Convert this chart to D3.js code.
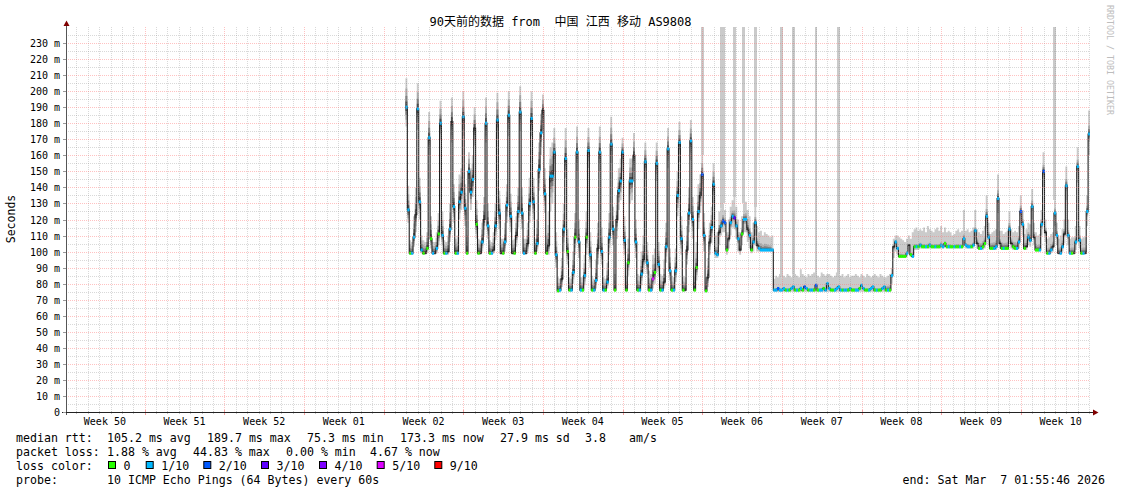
<!DOCTYPE html>
<html><head><meta charset="utf-8">
<script src="https://cdn.jsdelivr.net/npm/d3@7"></script>
<style>
html,body{margin:0;padding:0;background:#fff;}
svg{display:block;}
text{font-family:"DejaVu Sans Mono","Noto Sans CJK SC",monospace;}
</style></head><body>
<svg id="chart" width="1121" height="494"></svg>
<script>
const N = null;
// one sample every 4 hours, starting 2026-01-05 21:55:46 UTC
const median = [
190,
126,99,99,109,123,189,
131,101,99,99,102,171,
108,99,99,102,111,180,
110,99,99,100,114,181,
128,99,99,131,137,184,
127,99,150,137,145,177,
117,99,99,106,120,180,
116,99,99,101,116,182,
124,99,99,106,129,185,
122,99,99,110,125,187,
124,99,99,105,130,183,
131,99,105,151,174,188,
136,99,104,147,147,162,
98,75.5,76,83,114,158,
100,76,76,87,109,162,
106,76,76,85,109,163,
98,76,76,82,102,162,
100,76,76,81,109,167,
114,76,120,138,144,162,
107,76,93,144,144,160,
106,76,76,86,95,156,
93,76,76,83,87,155,
92,76,76,81,103,164,
88,76,76,88,135,168,
108,76,76,101,124,169,
120,76,90,125,135,148,
110,75.5,84,106,115,142,
99,98,112,116,119,118,
101,108,118,122,121,116,
108,101,111,120,120,114,
110,101,106,118,104,102,
101,101,101,101,101,101,
101,76,76,77,76,76,
77,76,76,76,77,78,
76,76,76,77,76,78,
77,76,76,76,76,79,
76,76,76,77,76,80,
77,76,76,76,77,78,
76,76,76,76,76,77,
76,76,76,76,77,79,
77,76,76,76,77,78,
76,76,76,76,77,78,
76,76,76,85,103,106,
102,97,97,97,97,99,
104,98,97,103,103,103,
104,103,103,103,103,104,
103,103,103,103,103,104,
103,105,103,103,103,103,
103,103,103,103,103,108,
104,103,103,103,104,113,
105,102,102,103,105,122,
109,102,102,102,103,133,
105,102,102,102,102,114,
105,103,102,102,106,125,
117,102,103,109,107,128,
109,101,101,101,117,150,
112,99,99,101,103,124,
110,99,99,103,111,141,
110,99,99,99,106,153,
107,99,99,99,125,173.3
];
const smokeLo = [
178,
118,98,98,103,112,176,
120,99,98,98,99,160,
102,98,98,99,104,170,
104,98,98,98,106,168,
118,98,98,120,126,172,
116,98,138,126,134,166,
108,98,98,100,110,168,
108,98,98,99,107,170,
114,98,98,100,118,172,
112,98,98,103,115,175,
114,98,98,100,118,172,
120,98,100,138,160,176,
124,98,98,125,130,150,
90,75,75,78,100,146,
92,75,75,80,98,150,
96,75,75,79,98,152,
90,75,75,77,92,150,
92,75,75,77,98,155,
104,75,108,126,132,150,
98,75,85,130,132,150,
96,75,75,79,86,145,
86,75,75,77,80,144,
85,75,75,77,93,152,
82,75,75,81,122,156,
98,75,75,92,112,157,
108,75,82,114,124,138,
100,75,78,98,105,130,
96,96,104,110,112,112,
98,102,110,115,114,108,
100,98,104,112,112,106,
102,99,100,110,100,100,
100,100,100,100,100,100,
100,75,75,75,75,75,
75,75,75,75,75,75,
75,75,75,75,75,75,
75,75,75,75,75,75,
75,75,75,75,75,75,
75,75,75,75,75,75,
75,75,75,75,75,75,
75,75,75,75,75,75,
75,75,75,75,75,75,
75,75,75,75,75,75,
75,75,75,80,96,100,
98,96,96,96,96,97,
100,97,96,101,101,101,
102,102,102,102,102,102,
102,102,102,102,102,102,
102,103,102,102,102,102,
102,102,102,102,102,104,
102,102,102,102,102,108,
102,101,101,101,102,115,
104,101,101,101,101,124,
102,101,101,101,101,108,
102,101,101,101,102,117,
110,101,101,104,103,120,
104,100,100,100,110,140,
106,98,98,99,100,116,
104,98,98,100,105,132,
104,98,98,98,101,143,
102,98,98,98,116,160
];
const smokeHi = [
208,
141,107,106,122,140,205,
146,110,107,106,112,187,
122,106,106,112,124,194,
125,107,106,110,130,196,
142,108,110,148,152,200,
142,110,162,152,160,190,
132,108,107,118,134,196,
130,107,106,112,130,199,
138,108,108,118,142,200,
136,107,108,122,140,203,
140,108,108,118,146,200,
146,108,120,168,186,198,
152,110,125,165,168,177,
112,84,83,96,130,177,
114,84,83,100,124,178,
120,84,84,98,125,177,
112,85,83,95,118,178,
115,84,83,93,124,184,
128,86,135,152,158,171,
122,85,108,158,158,174,
120,86,85,100,110,168,
106,88,86,98,102,168,
106,86,85,95,118,177,
102,85,84,102,150,181,
122,85,84,116,140,182,
134,90,106,142,148,160,
124,84,96,118,128,155,
110,112,125,127,130,126,
112,120,128,132,134,128,
120,112,122,130,131,126,
122,112,118,128,116,112,
113,110,112,111,110,109,
110,83,85,84,86,84,
85,84,86,85,84,86,
86,85,84,89,86,85,
84,86,85,86,87,85,
85,84,87,86,85,86,
86,85,84,85,87,86,
85,86,84,85,86,84,
85,85,86,85,84,86,
85,84,86,85,84,85,
86,85,84,86,85,84,
84,85,86,90,108,110,
110,109,108,107,106,108,
110,108,112,114,115,113,
114,113,115,112,116,114,
113,112,114,115,113,116,
112,115,112,113,112,110,
111,113,114,112,113,126,
113,114,112,113,115,126,
114,112,111,113,116,135,
118,111,112,113,114,148,
113,113,111,112,113,125,
114,112,113,112,116,135,
126,111,114,118,117,139,
118,112,110,111,126,162,
120,108,109,111,112,132,
118,108,110,114,120,153,
120,108,109,109,116,165,
116,108,109,109,135,188
];
// share of the smoke spread held by the middle pings, one value per day (day of first sample first)
const coreShare = [
0.65,
0.65,0.65,0.65,0.65,0.65,0.65,0.65,0.65,0.65,0.65,0.65,0.65,
0.6,0.6,0.6,0.6,0.6,0.6,0.6,0.6,0.6,0.6,0.6,0.6,0.6,0.6,0.6,
0.35,0.35,0.35,0.35,0.35,
0.12,0.12,0.12,0.12,0.12,0.12,0.12,0.12,0.12,0.12,
0.3,
0.15,0.15,0.15,0.15,0.15,0.15,0.15,
0.35,0.35,0.35,0.35,0.35,0.35,0.35,0.35,0.35,0.35
];
// loss class in tenths (null = no loss mark visible)
const lossClass = [
1,
1,0,1,1,N,1,
1,1,0,N,0,1,
0,1,N,1,0,1,
1,0,1,N,1,N,
1,0,1,1,1,1,
1,0,1,1,1,N,
0,0,N,1,N,1,
1,0,1,N,1,1,
1,N,0,1,1,1,
1,N,0,N,1,1,
1,1,N,N,1,1,
1,0,1,1,1,N,
1,0,N,1,1,1,
1,0,1,N,1,1,
0,0,1,1,0,1,
1,1,0,1,0,1,
1,0,1,1,N,1,
1,1,0,1,1,1,
1,0,N,1,1,1,
1,0,0,1,1,N,
1,0,1,1,N,1,
1,0,1,5,0,1,
1,0,1,N,1,1,
1,0,1,1,1,1,
1,0,N,N,1,1,
1,0,0,1,N,2,
1,0,N,N,1,1,
1,1,N,1,2,2,
0,N,1,1,3,1,
1,N,0,1,1,N,
1,0,1,1,N,1,
1,1,1,1,1,1,
1,1,1,2,1,1,
1,0,1,0,1,1,
0,1,0,1,0,2,
1,0,1,1,0,2,
0,1,1,0,1,1,
1,0,0,1,1,1,
1,0,1,1,0,1,
0,0,1,1,0,1,
1,0,0,1,1,1,
0,1,0,0,1,1,
0,1,0,1,N,1,
1,0,0,0,0,1,
N,0,1,0,1,0,
1,0,0,1,0,1,
0,0,1,0,0,1,
1,0,0,1,0,0,
1,0,0,1,0,1,
1,1,1,0,1,1,
N,0,1,0,0,1,
1,0,0,1,1,1,
N,0,1,0,0,1,
N,0,0,1,1,2,
1,0,N,1,1,1,
N,0,0,1,1,2,
N,0,1,1,N,1,
1,N,1,1,N,1,
1,1,0,N,1,1,
1,0,1,N,1,1
];
// single-ping outliers above the top of the chart (sample index, max rtt in ms)
const spikeSlot = [156,166,167,173,178,184,198,204,216,228,342];
const spikeMax  = [260,260,260,260,260,260,260,260,260,260,260];

const yTickValues = [0,10,20,30,40,50,60,70,80,90,100,110,120,130,140,150,160,170,180,190,200,210,220,230];
const yTickLabels = ["0","10 m","20 m","30 m","40 m","50 m","60 m","70 m","80 m","90 m","100 m","110 m","120 m","130 m","140 m","150 m","160 m","170 m","180 m","190 m","200 m","210 m","220 m","230 m"];
const weekLabels = ["Week 50","Week 51","Week 52","Week 01","Week 02","Week 03","Week 04","Week 05","Week 06","Week 07","Week 08","Week 09","Week 10"];
const lossLegendLabels = ["0","1/10","2/10","3/10","4/10","5/10","9/10"];
const lossLegendClasses = [0,1,2,3,4,5,9];
const lossColors = {0:"#26ff00",1:"#00b8ff",2:"#0059ff",3:"#5e00ff",4:"#7e00ff",5:"#dd00ff",9:"#ff0000"};
const titleText = "90天前的数据 from  中国 江西 移动 AS9808";
const statsRtt = ["median rtt:","105.2 ms avg","189.7 ms max","75.3 ms min","173.3 ms now","27.9 ms sd","3.8","am/s"];
const statsLoss = ["packet loss:","1.88 % avg","44.83 % max","0.00 % min","4.67 % now"];
const probeText = ["probe:","10 ICMP Echo Pings (64 Bytes) every 60s"];
const endText = "end: Sat Mar  7 01:55:46 2026";

// ---------------- drawing ----------------
const W = 1121, H = 494;
const PL = 66, PR = 1090, PT = 27, PB = 412;
const svg = d3.select("#chart");
svg.append("rect").attr("width", W).attr("height", H).attr("fill", "#fff");

const tEnd = Date.UTC(2026, 2, 7, 1, 55, 46);
const tStart = tEnd - 90 * 864e5;
const dataStart = Date.UTC(2026, 0, 5, 21, 55, 46);
const STEP = 4 * 36e5;
const x = d3.scaleUtc().domain([tStart, tEnd]).range([PL, PR]);
const y = d3.scaleLinear().domain([0, 240]).range([PB, PT]);

svg.append("defs").append("clipPath").attr("id", "plot")
  .append("rect").attr("x", PL).attr("y", PT).attr("width", PR - PL).attr("height", PB - PT);
const g = svg.append("g").attr("clip-path", "url(#plot)");

const rows = median.map((m, i) => ({t: dataStart + i * STEP, m, lo: smokeLo[i], hi: smokeHi[i], loss: lossClass[i],
  core: coreShare[Math.floor((i + 5) / 6)]}));
const rowsExt = rows.concat([Object.assign({}, rows[rows.length - 1], {t: dataStart + rows.length * STEP})]);

// outlier spikes
spikeSlot.forEach((s, k) => {
  const t = dataStart + s * STEP;
  const top = Math.min(spikeMax[k], 240);
  const x0 = Math.floor(x(t)), x1 = Math.max(Math.ceil(x(t + STEP)), x0 + 2);
  g.append("rect").attr("x", x0).attr("width", x1 - x0).attr("shape-rendering", "crispEdges")
    .attr("y", y(top)).attr("height", y(smokeHi[s]) - y(top)).attr("fill", "#cacaca");
});

// smoke: outer band light, middle pings darker
const layers = [{f: 1, c: "#cbcbcb", core: false}, {f: 1, c: "#acacac", core: true},
  {f: 0.6, c: "#808080", core: true}, {f: 0.3, c: "#4c4c4c", core: true}];
layers.forEach(L => {
  const k = d => L.core ? L.f * d.core : L.f;
  const area = d3.area().curve(d3.curveStepAfter)
    .x(d => x(d.t))
    .y0(d => y(d.m - (d.m - d.lo) * k(d)))
    .y1(d => y(d.m + (d.hi - d.m) * k(d)));
  g.append("path").datum(rowsExt).attr("d", area).attr("fill", L.c);
});

// grid
const grid = svg.append("g");
const minorCol = "rgba(140,140,140,0.33)", majorCol = "rgba(255,110,110,0.42)";
const hy = v => Math.round(y(v)) + 0.5;
const vx = t => Math.round(x(t)) + 0.5;
for (let v = 5; v < 240; v += 10) {
  grid.append("line").attr("x1", PL).attr("x2", PR).attr("y1", hy(v)).attr("y2", hy(v))
    .attr("stroke", minorCol).attr("stroke-dasharray", "1,1");
}
const days = d3.utcDay.range(d3.utcDay.ceil(tStart), tEnd);
const weeks = d3.utcSunday.range(d3.utcSunday.ceil(tStart), tEnd);
const weekSet = new Set(weeks.map(d => +d));
days.filter(d => !weekSet.has(+d)).forEach(d => {
  grid.append("line").attr("x1", vx(d)).attr("x2", vx(d)).attr("y1", PT).attr("y2", PB)
    .attr("stroke", minorCol).attr("stroke-dasharray", "1,1");
  grid.append("line").attr("x1", vx(d)).attr("x2", vx(d)).attr("y1", PB - 1).attr("y2", PB + 2)
    .attr("stroke", "#c4c4c4");
});
yTickValues.filter(v => v > 0).forEach(v => {
  grid.append("line").attr("x1", PL).attr("x2", PR).attr("y1", hy(v)).attr("y2", hy(v))
    .attr("stroke", majorCol).attr("stroke-dasharray", "1,1");
});
weeks.forEach(d => {
  grid.append("line").attr("x1", vx(d)).attr("x2", vx(d)).attr("y1", PT).attr("y2", PB)
    .attr("stroke", majorCol).attr("stroke-dasharray", "1,1");
  grid.append("line").attr("x1", vx(d)).attr("x2", vx(d)).attr("y1", PB - 2).attr("y2", PB + 3)
    .attr("stroke", "#f3a0a0");
});

// median line
const line = d3.line().curve(d3.curveStepAfter).x(d => x(d.t)).y(d => y(d.m));
g.append("path").datum(rowsExt).attr("d", line).attr("fill", "none")
  .attr("stroke", "#202020").attr("stroke-width", 1.1);

// loss marks
rows.filter(d => d.loss !== null).forEach(d => {
  g.append("rect").attr("x", x(d.t)).attr("width", x(d.t + STEP) - x(d.t) + 0.3)
    .attr("y", y(d.m) - 1.5).attr("height", 3).attr("fill", lossColors[d.loss]);
});

// axes
const ax = svg.append("g");
ax.append("line").attr("x1", PL + 0.5).attr("x2", PL + 0.5).attr("y1", PB + 3).attr("y2", 24).attr("stroke", "#555");
ax.append("line").attr("x1", PL - 4).attr("x2", PR + 4).attr("y1", PB + 0.5).attr("y2", PB + 0.5).attr("stroke", "#222");
ax.append("path").attr("d", `M${PL - 2.5},26 L${PL + 0.5},20.5 L${PL + 3.5},26 Z`).attr("fill", "#800000");
ax.append("path").attr("d", `M${PR + 3},${PB - 2.5} L${PR + 8.5},${PB + 0.5} L${PR + 3},${PB + 3.5} Z`).attr("fill", "#800000");

yTickValues.forEach((v, i) => {
  ax.append("line").attr("x1", PL - 3).attr("x2", PL).attr("y1", hy(v)).attr("y2", hy(v)).attr("stroke", "#999");
  ax.append("text").attr("x", 60).attr("y", Math.round(y(v)) + 4).attr("text-anchor", "end")
    .attr("font-size", "10px").attr("fill", "#000").text(yTickLabels[i]);
});
const firstWeek = d3.utcSunday.floor(tStart);
weekLabels.forEach((lab, i) => {
  const c = +firstWeek + i * 7 * 864e5 + 3.5 * 864e5;
  ax.append("text").attr("x", x(c)).attr("y", 425).attr("text-anchor", "middle")
    .attr("font-size", "10px").attr("fill", "#000").text(lab);
});

// title, axis title, watermark
svg.append("text").attr("x", 560.5).attr("y", 26).attr("text-anchor", "middle")
  .attr("font-size", "12px").attr("fill", "#000").attr("xml:space", "preserve").text(titleText);
svg.append("text").attr("transform", "translate(15,219) rotate(-90)").attr("text-anchor", "middle")
  .attr("font-size", "11.5px").attr("fill", "#000").text("Seconds");
svg.append("text").attr("transform", "translate(1107,5) rotate(90)").attr("text-anchor", "start")
  .attr("font-size", "8.3px").attr("fill", "#bdbdbd").text("RRDTOOL / TOBI OETIKER");

// legend
const LF = "11.6px";
const leg = svg.append("g").attr("font-size", LF).attr("fill", "#000");
const rttX = [16, 107, 207, 307, 400, 500, 585, 629];
statsRtt.forEach((s, i) => leg.append("text").attr("x", rttX[i]).attr("y", 442).text(s));
const lossX = [16, 107, 193, 286, 370];
statsLoss.forEach((s, i) => leg.append("text").attr("x", lossX[i]).attr("y", 456).text(s));
leg.append("text").attr("x", 16).attr("y", 470).text("loss color:");
const boxX = [108, 145.7, 203.3, 261, 319, 376.7, 434.3];
lossLegendClasses.forEach((c, i) => {
  leg.append("rect").attr("x", boxX[i] + 0.5).attr("y", 461.5).attr("width", 7).attr("height", 7)
    .attr("fill", lossColors[c]).attr("stroke", "#000").attr("stroke-width", 1);
  leg.append("text").attr("x", boxX[i] + 15.5).attr("y", 470).text(lossLegendLabels[i]);
});
leg.append("text").attr("x", 16).attr("y", 484).text(probeText[0]);
leg.append("text").attr("x", 107).attr("y", 484).text(probeText[1]);
leg.append("text").attr("x", 1105).attr("y", 484).attr("text-anchor", "end").attr("xml:space", "preserve").text(endText);
</script>
</body></html>
